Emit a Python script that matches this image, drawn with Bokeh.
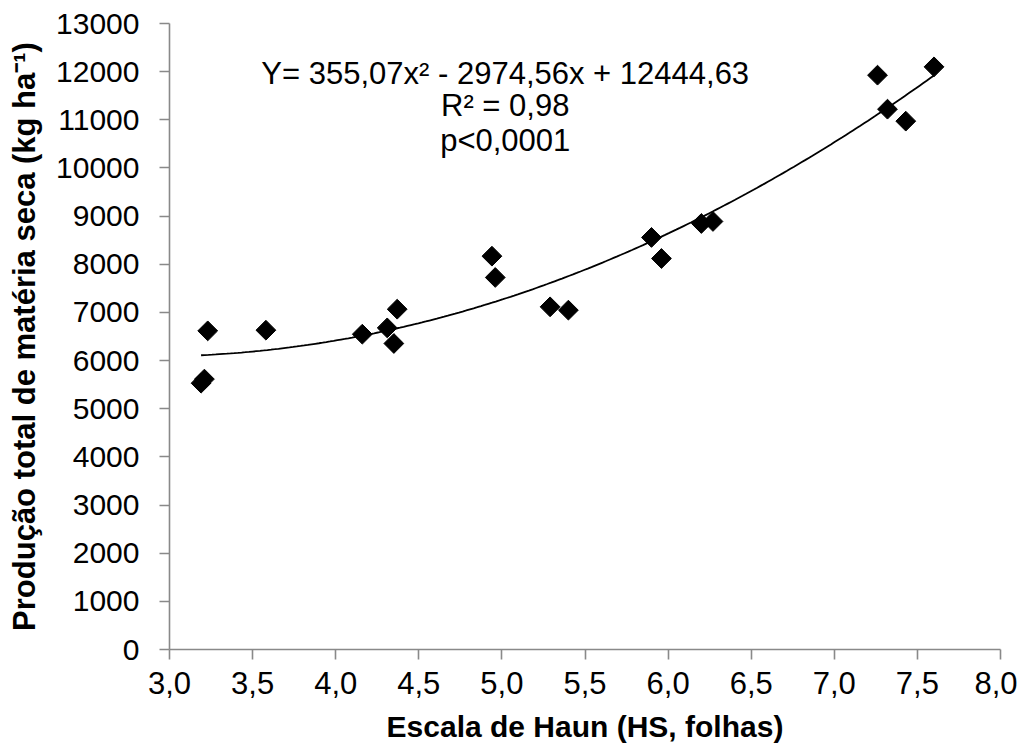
import numpy as np
from bokeh.plotting import figure
from bokeh.models import Range1d, FixedTicker, Label, ColumnDataSource
from bokeh.embed import file_html
from bokeh.resources import INLINE

# Data
hs = [3.19, 3.21, 3.23, 3.58, 4.16, 4.31, 4.35, 4.37, 4.94, 4.96,
      5.29, 5.40, 5.90, 5.96, 6.20, 6.27, 7.26, 7.32, 7.43, 7.60]
ms = [5530, 5615, 6617, 6631, 6548, 6679, 6355, 7067, 8168, 7726,
      7116, 7047, 8557, 8120, 8847, 8889, 11927, 11221, 10972, 12100]

x_ticks = [3.0, 3.5, 4.0, 4.5, 5.0, 5.5, 6.0, 6.5, 7.0, 7.5, 8.0]
x_tick_labels = ["3,0", "3,5", "4,0", "4,5", "5,0", "5,5", "6,0", "6,5", "7,0", "7,5", "8,0"]
y_ticks = list(range(0, 13001, 1000))

eq_lines = ["Y= 355,07x² - 2974,56x + 12444,63", "R² = 0,98", "p<0,0001"]

FONT = "Liberation Sans"
AXIS_COLOR = "#898989"

p = figure(frame_width=831, frame_height=626,
           min_border_left=169, min_border_right=17,
           min_border_top=23, min_border_bottom=96,
           output_backend="svg", toolbar_location=None,
           x_range=Range1d(3.0, 8.0), y_range=Range1d(0, 13000))

p.grid.visible = False
p.outline_line_color = None
p.background_fill_color = "white"
p.border_fill_color = "white"

# Trend line: quadratic fit to the points
coef = np.polyfit(hs, ms, 2)
xf = np.linspace(min(hs), max(hs), 200)
p.line(xf, np.polyval(coef, xf), line_color="black", line_width=1.8)

src = ColumnDataSource(dict(x=hs, y=ms))
p.scatter("x", "y", source=src, marker="square", size=14, angle=np.pi / 4,
          fill_color="black", line_color="black")

for ax in (p.xaxis[0], p.yaxis[0]):
    ax.axis_line_color = AXIS_COLOR
    ax.axis_line_width = 1.6
    ax.major_tick_line_color = AXIS_COLOR
    ax.major_tick_line_width = 1.6
    ax.major_tick_out = 10
    ax.major_tick_in = 0
    ax.minor_tick_line_color = None
    ax.major_label_text_font = FONT
    ax.major_label_text_color = "black"
    ax.axis_label_text_font = FONT
    ax.axis_label_text_font_style = "bold"
    ax.axis_label_text_color = "black"

p.xaxis.major_label_text_font_size = "31px"
p.yaxis.major_label_text_font_size = "30px"
p.xaxis.axis_label_text_font_size = "30px"
p.yaxis.axis_label_text_font_size = "31px"
p.xaxis.ticker = FixedTicker(ticks=x_ticks)
p.xaxis.major_label_overrides = {t: l for t, l in zip(x_ticks, x_tick_labels)}
p.yaxis.ticker = FixedTicker(ticks=y_ticks)
p.xaxis.major_label_standoff = 12
p.yaxis.major_label_standoff = 20
p.xaxis.axis_label = "Escala de Haun (HS, folhas)"
p.yaxis.axis_label = "Produção total de matéria seca (kg ha⁻¹)"
p.xaxis.axis_label_standoff = 13
p.yaxis.axis_label_standoff = 11

eq_x = 5.02
eq_y = [11969, 11305, 10578]
for txt, yy in zip(eq_lines, eq_y):
    p.add_layout(Label(x=eq_x, y=yy, text=txt, text_align="center",
                       text_baseline="middle", text_font=FONT,
                       text_font_size="31px", text_color="black"))

open("out.html", "w").write(file_html(p, INLINE))
